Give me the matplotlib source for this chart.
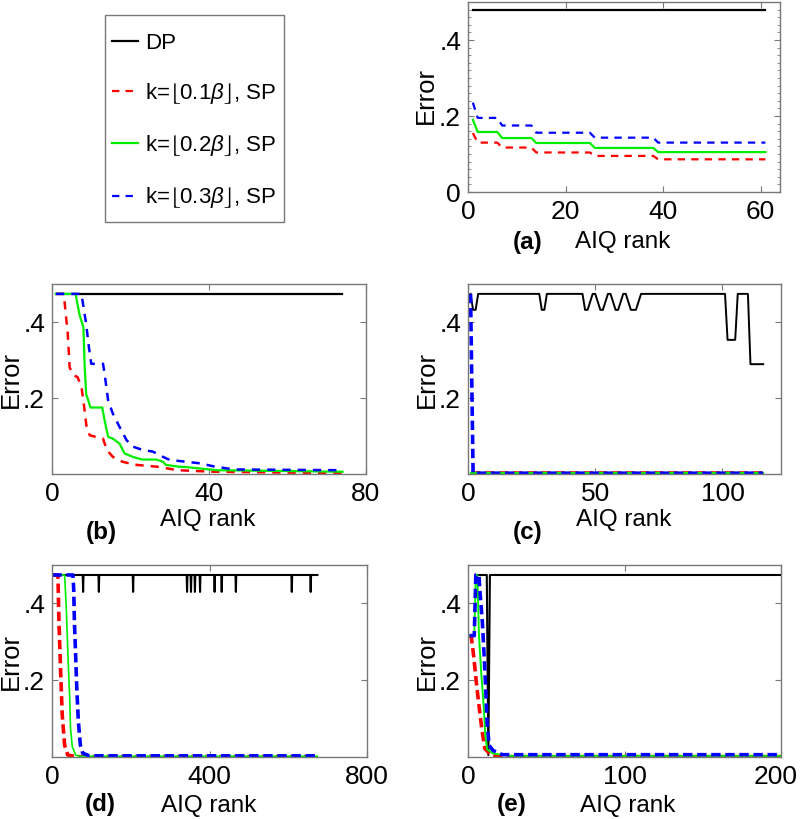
import matplotlib
matplotlib.use("Agg")
import matplotlib.pyplot as plt
from matplotlib.patches import Rectangle
from matplotlib.ticker import MultipleLocator
from matplotlib.transforms import ScaledTranslation

plt.rcParams['font.family'] = ['Liberation Sans', 'DejaVu Sans']
plt.rcParams['mathtext.fontset'] = 'custom'
plt.rcParams['mathtext.rm'] = 'Liberation Sans'
plt.rcParams['mathtext.it'] = 'Liberation Sans:italic'
plt.rcParams['mathtext.fallback'] = 'stix'

# ---- data ----
labels = ['DP', r'k=$\lfloor$0.1$\beta\rfloor$, SP',
          r'k=$\lfloor$0.2$\beta\rfloor$, SP', r'k=$\lfloor$0.3$\beta\rfloor$, SP']

# (a)
a_dp_rank = [1, 61]
a_dp = [0.479, 0.479]
a_rank = [1, 2, 6, 7, 13, 14, 25, 26, 38, 39, 61]
a_k1 = [0.155, 0.130, 0.130, 0.117, 0.117, 0.104, 0.104, 0.095, 0.095, 0.086, 0.086]
a_k2 = [0.190, 0.158, 0.158, 0.142, 0.142, 0.129, 0.129, 0.116, 0.116, 0.105, 0.105]
a_k3 = [0.235, 0.195, 0.195, 0.175, 0.175, 0.156, 0.156, 0.143, 0.143, 0.130, 0.130]

# (b)
b_dp_rank = [1, 74]
b_dp = [0.474, 0.474]
b_k1_rank = [1, 3, 4, 4.5, 5.5, 6.5, 7.5, 8.2, 8.8, 9.6, 11, 13, 14, 15.5, 18, 21.5, 27, 32, 41, 74]
b_k1 = [0.474, 0.474, 0.37, 0.28, 0.26, 0.255, 0.23, 0.176, 0.124, 0.102, 0.098, 0.093,
        0.063, 0.045, 0.032, 0.024, 0.019, 0.010, 0.006, 0.002]
b_k2_rank = [1, 6, 7, 8, 8.3, 8.7, 9.8, 12.8, 13.4, 14.3, 15.5, 17.2, 18.5, 20.6, 23,
             26.6, 28.3, 29, 32.5, 34.4, 42, 74]
b_k2 = [0.474, 0.474, 0.42, 0.386, 0.29, 0.211, 0.175, 0.175, 0.141, 0.098, 0.093, 0.080,
        0.054, 0.045, 0.038, 0.038, 0.032, 0.024, 0.019, 0.018, 0.010, 0.006]
b_k3_rank = [1, 7.5, 8.7, 9.4, 10, 13, 13.4, 14.3, 15.5, 17.2, 19, 20.6, 23.2, 25.7,
             28.3, 30, 37.8, 41.2, 46.3, 74]
b_k3 = [0.474, 0.474, 0.395, 0.334, 0.29, 0.29, 0.264, 0.194, 0.159, 0.124, 0.089, 0.072,
        0.063, 0.059, 0.045, 0.037, 0.028, 0.020, 0.012, 0.010]

# (c)
c_dp_rank = [1, 2, 3, 4, 28, 29, 30, 31, 45, 46, 47, 49, 50, 52, 53, 55, 56, 58, 59, 61,
             62, 64, 66, 68, 101, 102, 105, 106, 110, 111, 116]
c_dp = [0.474, 0.432, 0.432, 0.474, 0.474, 0.432, 0.432, 0.474, 0.474, 0.432, 0.432, 0.474,
        0.474, 0.432, 0.432, 0.474, 0.474, 0.432, 0.432, 0.474, 0.474, 0.432, 0.432, 0.474,
        0.474, 0.353, 0.353, 0.474, 0.474, 0.289, 0.289]
c_k1_rank = [1, 116]
c_k1 = [0.002, 0.002]
c_k2_rank = [1, 116]
c_k2 = [0.002, 0.002]
c_k3_rank = [1, 2, 116]
c_k3 = [0.474, 0.002, 0.002]

# (d)
d_dp_rank = [1, 674]
d_dp_top = 0.474
d_dp_low = 0.43
d_dp_dips = [79, 119, 206, 343, 353, 363, 376, 413, 431, 467, 609, 657]
d_k1_rank = [1, 15, 17.7, 22, 26, 32, 40, 62, 674]
d_k1 = [0.474, 0.474, 0.35, 0.22, 0.11, 0.031, 0.005, 0.001, 0.001]
d_k2_rank = [1, 32, 36, 40.5, 45, 47, 51.5, 60, 70, 674]
d_k2 = [0.474, 0.474, 0.395, 0.265, 0.152, 0.074, 0.027, 0.005, 0.002, 0.002]
d_k3_rank = [1, 53, 55, 57, 60, 63, 67, 72, 78, 95, 674]
d_k3 = [0.474, 0.474, 0.44, 0.35, 0.265, 0.178, 0.092, 0.031, 0.010, 0.003, 0.003]

# (e)
e_dp_rank = [5, 12, 13, 14, 200]
e_dp = [0.474, 0.474, 0.005, 0.474, 0.474]
e_k1_rank = [1, 2, 3.6, 5.3, 7, 8.8, 10.7, 15, 20, 200]
e_k1 = [0.316, 0.316, 0.264, 0.195, 0.134, 0.074, 0.022, 0.004, 0.001, 0.001]
e_k2_rank = [1, 4, 5, 6, 7, 8.5, 10, 11.1, 12.2, 16, 27, 200]
e_k2 = [0.316, 0.316, 0.474, 0.474, 0.316, 0.216, 0.134, 0.056, 0.02, 0.009, 0.003, 0.003]
e_k3_rank = [1, 4, 5, 7, 7.5, 9.2, 10.3, 11.3, 12.2, 13.5, 16, 22, 200]
e_k3 = [0.316, 0.316, 0.474, 0.474, 0.437, 0.35, 0.264, 0.178, 0.09, 0.03, 0.017, 0.006, 0.006]

W, H = 800, 819
GRAY = '#787878'


def box(l, t, r, b):
    return [l / W, 1 - b / H, (r - l) / W, (b - t) / H]


def ftext(x, y, s, **kw):
    fig.text(x / W, 1 - y / H, s, ha='center', va='center', **kw)


def style(ax, xlim, xticks, yticks, yticklabels):
    ax.set_xlim(*xlim)
    ax.set_ylim(0, 0.5)
    ax.set_xticks(xticks)
    ax.set_yticks(yticks)
    ax.set_yticklabels(yticklabels)
    ax.tick_params(direction='in', top=True, right=True, length=4, width=0.8,
                   color=GRAY, labelsize=19, pad=5)
    ax.tick_params(axis='x', pad=6)
    for sp in ax.spines.values():
        sp.set_color(GRAY)
        sp.set_linewidth(1.0)


def draw(ax, dp, k1, k2, k3, lw_dp, lw_s, lw_d, dash):
    h0, = ax.plot(dp[0], dp[1], color='black', lw=lw_dp)
    h1, = ax.plot(k1[0], k1[1], color='#ff0000', lw=lw_d, linestyle=(0, dash))
    h2, = ax.plot(k2[0], k2[1], color='#00ee00', lw=lw_s)
    h3, = ax.plot(k3[0], k3[1], color='#0000ff', lw=lw_d, linestyle=(0, dash))
    return [h0, h1, h2, h3]


fig = plt.figure(figsize=(8, 8.19), dpi=100)

ax_a = fig.add_axes(box(468, 2, 780, 192))
ax_b = fig.add_axes(box(52, 284, 366, 474))
ax_c = fig.add_axes(box(468, 284, 781, 474))
ax_d = fig.add_axes(box(52, 565, 367, 757))
ax_e = fig.add_axes(box(468, 565, 781, 757))

thin_dash = (3.3, 2.8)
thick_dash = (2.6, 1.3)

handles = draw(ax_a, (a_dp_rank, a_dp), (a_rank, a_k1), (a_rank, a_k2), (a_rank, a_k3),
               1.6, 1.6, 1.6, thin_dash)
draw(ax_b, (b_dp_rank, b_dp), (b_k1_rank, b_k1), (b_k2_rank, b_k2), (b_k3_rank, b_k3),
     1.6, 1.6, 1.8, thin_dash)
draw(ax_c, (c_dp_rank, c_dp), (c_k1_rank, c_k1), (c_k2_rank, c_k2), (c_k3_rank, c_k3),
     1.4, 1.6, 2.6, thick_dash)

# DP curve of (d): flat level with narrow single-rank dips
d_x, d_y = [d_dp_rank[0]], [d_dp_top]
for r in d_dp_dips:
    d_x += [r - 1, r, r + 1]
    d_y += [d_dp_top, d_dp_low, d_dp_top]
d_x.append(d_dp_rank[1])
d_y.append(d_dp_top)
draw(ax_d, (d_x, d_y), (d_k1_rank, d_k1), (d_k2_rank, d_k2), (d_k3_rank, d_k3),
     1.5, 1.2, 2.6, thick_dash)
draw(ax_e, (e_dp_rank, e_dp), (e_k1_rank, e_k1), (e_k2_rank, e_k2), (e_k3_rank, e_k3),
     1.5, 1.4, 2.6, thick_dash)

style(ax_a, (0, 64), [0, 20, 40, 60], [0, 0.2, 0.4], ['0', '.2', '.4'])
ax_a.yaxis.set_minor_locator(MultipleLocator(0.02))
ax_a.tick_params(axis='y', which='minor', direction='in', right=True, length=2,
                 width=0.6, color=GRAY)
style(ax_b, (0, 80), [0, 40, 80], [0.2, 0.4], ['.2', '.4'])
style(ax_c, (0, 123), [0, 50, 100], [0.2, 0.4], ['.2', '.4'])
style(ax_d, (0, 800), [0, 400, 800], [0.2, 0.4], ['.2', '.4'])
style(ax_e, (0, 200), [0, 100, 200], [0.2, 0.4], ['.2', '.4'])

# keep the last tick label of (e) inside the canvas
last = ax_e.get_xticklabels()[-1]
last.set_transform(last.get_transform() + ScaledTranslation(-5 / 100, 0, fig.dpi_scale_trans))

# axis labels and panel tags
for (xl, yc_err, xc_rank, y_rank, tag, xt, yt) in [
        (426, 95, 623, 242, '(a)', 528, 242),
        (11, 379, 208, 520, '(b)', 101, 533),
        (427, 379, 624, 520, '(c)', 528, 533),
        (11, 661, 209, 806, '(d)', 100, 804),
        (427, 661, 628, 806, '(e)', 512, 804)]:
    ftext(xl, yc_err, 'Error', rotation=90, fontsize=18.5)
    ftext(xc_rank, y_rank, 'AIQ rank', fontsize=17.5)
    ftext(xt, yt, tag, fontsize=17.5, fontweight='bold')

# legend
fig.patches.append(Rectangle((105 / W, 1 - 222 / H), 179 / W, 207 / H,
                             transform=fig.transFigure, fill=False,
                             edgecolor=GRAY, linewidth=1.0))
fig.legend(handles, labels, loc='upper left', bbox_to_anchor=(112 / W, 1 - 33 / H),
           frameon=False, fontsize=16, handlelength=1.15, handletextpad=0.35,
           labelspacing=1.22, borderpad=0, borderaxespad=0)

fig.savefig('out.png', dpi=100)
